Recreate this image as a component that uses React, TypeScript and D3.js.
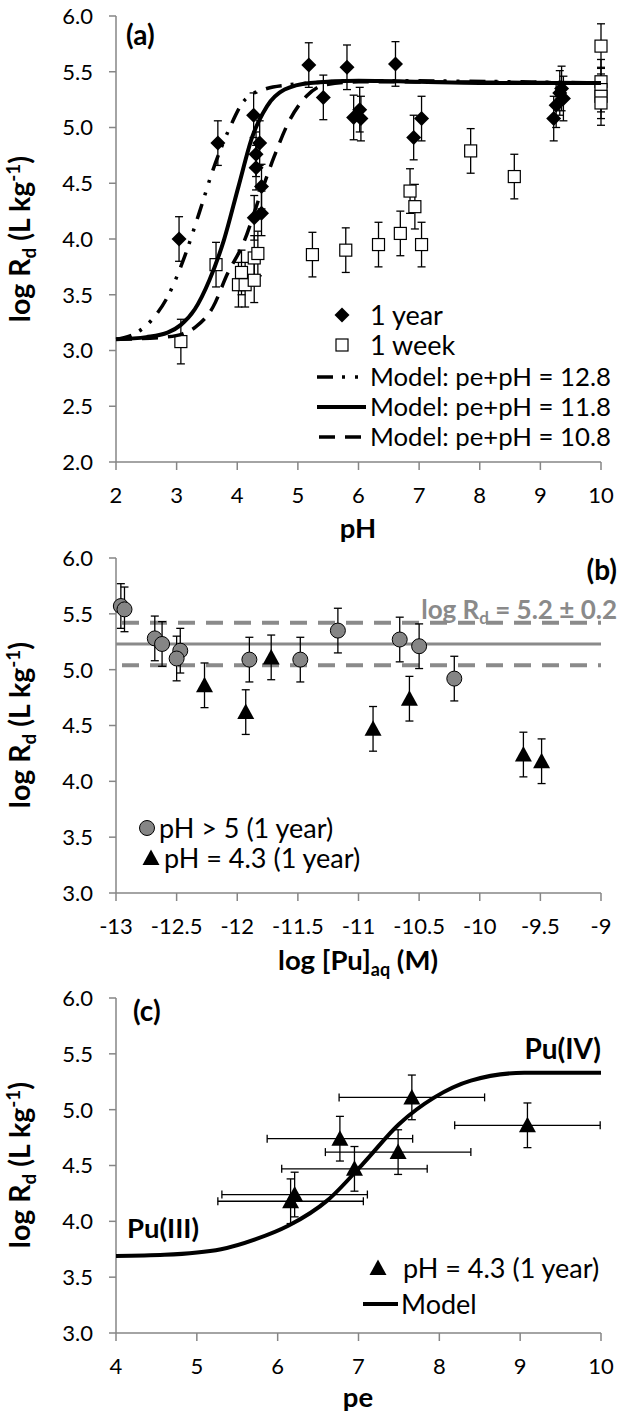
import React from "react";
import * as d3 from "d3";

// ---- panel (a): log Rd vs pH ----
const yearPH = [3.04, 3.68, 4.27, 4.37, 4.31, 4.31, 4.4, 4.28, 4.4, 5.18, 5.42, 5.81, 5.92, 6.02, 6.04, 6.61, 6.91, 7.04, 9.22, 9.26, 9.32, 9.35, 9.38];
const yearRd = [4.0, 4.86, 5.11, 4.86, 4.76, 4.64, 4.47, 4.19, 4.23, 5.56, 5.27, 5.54, 5.09, 5.16, 5.08, 5.57, 4.91, 5.08, 5.08, 5.2, 5.31, 5.35, 5.26];
const weekPH = [3.07, 3.65, 4.02, 4.13, 4.07, 4.28, 4.28, 4.34, 5.24, 5.79, 6.33, 6.69, 6.85, 6.93, 7.04, 7.85, 8.57, 10, 10, 10, 10, 10];
const weekRd = [3.08, 3.77, 3.59, 3.59, 3.7, 3.63, 3.83, 3.87, 3.86, 3.9, 3.95, 4.05, 4.43, 4.29, 3.95, 4.79, 4.56, 5.73, 5.41, 5.34, 5.28, 5.22];
const errA = 0.2;

const m128PH = [2.0, 2.37, 2.6, 2.84, 3.13, 3.37, 3.6, 3.87, 4.13, 4.49, 4.8, 5.2, 6.0, 10];
const m128Rd = [3.1, 3.17, 3.28, 3.47, 3.84, 4.23, 4.62, 4.99, 5.25, 5.35, 5.38, 5.4, 5.42, 5.4];
const m118PH = [2.0, 2.5, 2.85, 3.07, 3.3, 3.54, 3.78, 4.02, 4.25, 4.49, 4.78, 5.2, 6.0, 7.0, 8.0, 10];
const m118Rd = [3.1, 3.12, 3.16, 3.23, 3.37, 3.63, 3.99, 4.47, 4.92, 5.19, 5.34, 5.4, 5.42, 5.41, 5.4, 5.4];
const m108PH = [2.0, 2.8, 3.1, 3.31, 3.6, 3.84, 4.1, 4.37, 4.61, 4.84, 5.14, 5.43, 6.0, 10];
const m108Rd = [3.1, 3.12, 3.15, 3.21, 3.39, 3.69, 3.96, 4.38, 4.74, 5.04, 5.28, 5.38, 5.41, 5.4];

// ---- panel (b): log Rd vs log [Pu]aq ----
const hiPu = [-12.96, -12.93, -12.68, -12.62, -12.47, -12.5, -11.9, -11.48, -11.17, -10.66, -10.5, -10.21];
const hiRd = [5.57, 5.54, 5.28, 5.23, 5.17, 5.1, 5.09, 5.09, 5.35, 5.27, 5.21, 4.92];
const loPu = [-12.27, -11.93, -11.72, -10.88, -10.58, -9.64, -9.49];
const loRd = [4.86, 4.62, 5.11, 4.47, 4.74, 4.24, 4.18];
const meanRd = 5.23;
const bandRd = [5.42, 5.04];

// ---- panel (c): log Rd vs pe ----
const pePe = [7.66, 6.77, 9.09, 7.49, 6.95, 6.21, 6.16];
const peRd = [5.11, 4.74, 4.86, 4.62, 4.47, 4.24, 4.18];
const errPe = 0.9;
const mPe = [4.0, 4.6, 5.3, 5.73, 6.13, 6.62, 7.06, 7.5, 7.94, 8.39, 9.05, 10];
const mPeRd = [3.69, 3.7, 3.75, 3.84, 3.96, 4.19, 4.52, 4.87, 5.11, 5.26, 5.33, 5.33];

const ticksA_x = [2, 3, 4, 5, 6, 7, 8, 9, 10];
const ticksA_y = [2, 2.5, 3, 3.5, 4, 4.5, 5, 5.5, 6];
const ticksB_x = [-13, -12.5, -12, -11.5, -11, -10.5, -10, -9.5, -9];
const ticksBC_y = [3, 3.5, 4, 4.5, 5, 5.5, 6];
const ticksC_x = [4, 5, 6, 7, 8, 9, 10];

const FONT = "Lato, 'Open Sans', sans-serif";
const AXIS = "#868686";
const GRAY = "#8a8a8a";

const diamond = (s: number) => `M0,${-s}L${s},0L0,${s}L${-s},0Z`;
const triangle = "M0,-8.5L8.5,7L-8.5,7Z";

function Axes({ x, y, xt, yt }: any) {
  const [x0, x1] = x.range();
  const [yb, ytop] = y.range();
  return (
    <g fontFamily={FONT} fontSize={22} fill="#000">
      <line x1={x0} x2={x0} y1={ytop} y2={yb} stroke={AXIS} strokeWidth={1.5} />
      <line x1={x0} x2={x1} y1={yb} y2={yb} stroke={AXIS} strokeWidth={1.5} />
      {yt.map((t: number) => (
        <g key={"y" + t}>
          <line x1={x0 - 7} x2={x0} y1={y(t)} y2={y(t)} stroke={AXIS} strokeWidth={1.5} />
          <text x={x0 - 23} y={y(t)} dy="0.36em" textAnchor="end">{d3.format(".1f")(t)}</text>
        </g>
      ))}
      {xt.map((t: number) => (
        <g key={"x" + t}>
          <line x1={x(t)} x2={x(t)} y1={yb} y2={yb + 8} stroke={AXIS} strokeWidth={1.5} />
          <text x={x(t)} y={yb + 41} textAnchor="middle">{String(t)}</text>
        </g>
      ))}
    </g>
  );
}

function YTitle({ cy }: { cy: number }) {
  return (
    <text transform={`translate(30,${cy}) rotate(-90)`} textAnchor="middle" fontFamily={FONT} fontWeight="bold" fontSize={28.5}>
      log R<tspan fontSize={19} dy={6}>d</tspan>
      <tspan dy={-6}> (L kg</tspan>
      <tspan fontSize={19} dy={-10}>-1</tspan>
      <tspan dy={10}>)</tspan>
    </text>
  );
}

function YErr({ cx, y, v, e }: any) {
  const a = y(v - e), b = y(v + e);
  return (
    <g stroke="#000" strokeWidth={1.3}>
      <line x1={cx} x2={cx} y1={a} y2={b} />
      <line x1={cx - 4} x2={cx + 4} y1={a} y2={a} />
      <line x1={cx - 4} x2={cx + 4} y1={b} y2={b} />
    </g>
  );
}

export default function App() {
  // scales
  const xA = d3.scaleLinear().domain([2, 10]).range([116, 601]);
  const yA = d3.scaleLinear().domain([2, 6]).range([462, 16]);
  const xB = d3.scaleLinear().domain([-13, -9]).range([116, 601]);
  const yB = d3.scaleLinear().domain([3, 6]).range([893, 558]);
  const xC = d3.scaleLinear().domain([4, 10]).range([116, 601]);
  const yC = d3.scaleLinear().domain([3, 6]).range([1333, 998]);

  const lineA = (px: number[], py: number[]) =>
    d3.line<number>().x((d, i) => xA(px[i])).y((d) => yA(d)).curve(d3.curveMonotoneX)(py) || "";
  const lineC = d3.line<number>().x((d, i) => xC(mPe[i])).y((d) => yC(d)).curve(d3.curveMonotoneX)(mPeRd) || "";

  const legTxt = { fontFamily: FONT, fontSize: 27 } as any;
  const modelTxt = { fontFamily: FONT, fontSize: 25.5, textLength: 241, lengthAdjust: "spacingAndGlyphs" } as any;
  const bold = { fontFamily: FONT, fontWeight: "bold" } as any;

  return (
    <svg width={619} height={1419} style={{ position: "absolute", left: 0, top: 0, background: "#fff" }}>
      {/* ===== (a) ===== */}
      <Axes x={xA} y={yA} xt={ticksA_x} yt={ticksA_y} />
      <YTitle cy={239} />
      <text x={358} y={538} textAnchor="middle" {...bold} fontSize={27.5}>pH</text>
      <text x={126} y={45} {...bold} fontSize={28}>(a)</text>

      {yearPH.map((p, i) => <YErr key={"ye" + i} cx={xA(p)} y={yA} v={yearRd[i]} e={errA} />)}
      {weekPH.map((p, i) => <YErr key={"we" + i} cx={xA(p)} y={yA} v={weekRd[i]} e={errA} />)}
      {yearPH.map((p, i) => (
        <path key={"yd" + i} d={diamond(7.5)} transform={`translate(${xA(p)},${yA(yearRd[i])})`} fill="#000" />
      ))}
      {weekPH.map((p, i) => (
        <rect key={"ws" + i} x={xA(p) - 6} y={yA(weekRd[i]) - 6} width={12} height={12} fill="#fff" stroke="#000" strokeWidth={1.2} />
      ))}
      <path d={lineA(m128PH, m128Rd)} fill="none" stroke="#000" strokeWidth={3.5} strokeDasharray="16,9,3,10,3,10" />
      <path d={lineA(m108PH, m108Rd)} fill="none" stroke="#000" strokeWidth={3.5} strokeDasharray="16,10" />
      <path d={lineA(m118PH, m118Rd)} fill="none" stroke="#000" strokeWidth={4} />

      {/* legend (a) */}
      <path d={diamond(7.5)} transform="translate(342,315)" fill="#000" />
      <text x={370} y={315} dy="0.36em" {...legTxt}>1 year</text>
      <rect x={336} y={339} width={12} height={12} fill="#fff" stroke="#000" strokeWidth={1.2} />
      <text x={370} y={345} dy="0.36em" {...legTxt}>1 week</text>
      <line x1={317} x2={366} y1={377} y2={377} stroke="#000" strokeWidth={3.5} strokeDasharray="16,9,3,10,3,10" />
      <text x={370} y={377} dy="0.36em" {...modelTxt}>Model: pe+pH = 12.8</text>
      <line x1={317} x2={366} y1={407} y2={407} stroke="#000" strokeWidth={4} />
      <text x={370} y={407} dy="0.36em" {...modelTxt}>Model: pe+pH = 11.8</text>
      <line x1={317} x2={366} y1={437} y2={437} stroke="#000" strokeWidth={3.5} strokeDasharray="16,10" strokeDashoffset={-2} />
      <text x={370} y={437} dy="0.36em" {...modelTxt}>Model: pe+pH = 10.8</text>

      {/* ===== (b) ===== */}
      <Axes x={xB} y={yB} xt={ticksB_x} yt={ticksBC_y} />
      <YTitle cy={725} />
      <text x={358} y={970} textAnchor="middle" {...bold} fontSize={27.5}>
        log [Pu]<tspan fontSize={18} dy={6}>aq</tspan><tspan dy={-6}> (M)</tspan>
      </text>
      <text x={617} y={580} textAnchor="end" {...bold} fontSize={28}>(b)</text>

      <line x1={xB(-13)} x2={xB(-9)} y1={yB(meanRd)} y2={yB(meanRd)} stroke={GRAY} strokeWidth={3} />
      {bandRd.map((b) => (
        <line key={"bd" + b} x1={xB(-13)} x2={xB(-9)} y1={yB(b)} y2={yB(b)} stroke={GRAY} strokeWidth={4} strokeDasharray="17,11" strokeDashoffset={-6} />
      ))}
      <text x={617} y={619} textAnchor="end" {...bold} fontSize={26} fill={GRAY}>
        log R<tspan fontSize={17} dy={5}>d</tspan><tspan dy={-5}> = 5.2 ± 0.2</tspan>
      </text>

      {hiPu.map((p, i) => <YErr key={"he" + i} cx={xB(p)} y={yB} v={hiRd[i]} e={0.2} />)}
      {loPu.map((p, i) => <YErr key={"le" + i} cx={xB(p)} y={yB} v={loRd[i]} e={0.2} />)}
      {hiPu.map((p, i) => (
        <circle key={"hc" + i} cx={xB(p)} cy={yB(hiRd[i])} r={7.5} fill="#858585" stroke="#000" strokeWidth={1} />
      ))}
      {loPu.map((p, i) => (
        <path key={"lt" + i} d={triangle} transform={`translate(${xB(p)},${yB(loRd[i])})`} fill="#000" />
      ))}

      {/* legend (b) */}
      <circle cx={147} cy={828} r={7.5} fill="#858585" stroke="#000" strokeWidth={1} />
      <text x={159} y={828} dy="0.36em" {...legTxt}>pH &gt; 5 (1 year)</text>
      <path d={triangle} transform="translate(151,858)" fill="#000" />
      <text x={164} y={858} dy="0.36em" {...legTxt}>pH = 4.3 (1 year)</text>

      {/* ===== (c) ===== */}
      <Axes x={xC} y={yC} xt={ticksC_x} yt={ticksBC_y} />
      <YTitle cy={1165} />
      <text x={358} y={1407} textAnchor="middle" {...bold} fontSize={27.5}>pe</text>
      <text x={133} y={1021} {...bold} fontSize={28}>(c)</text>

      {pePe.map((p, i) => {
        const cy = yC(peRd[i]);
        const a = xC(p - errPe), b = xC(p + errPe);
        return (
          <g key={"xe" + i} stroke="#000" strokeWidth={1.3}>
            <line x1={a} x2={b} y1={cy} y2={cy} />
            <line x1={a} x2={a} y1={cy - 4} y2={cy + 4} />
            <line x1={b} x2={b} y1={cy - 4} y2={cy + 4} />
          </g>
        );
      })}
      {pePe.map((p, i) => <YErr key={"ce" + i} cx={xC(p)} y={yC} v={peRd[i]} e={0.2} />)}
      <path d={lineC} fill="none" stroke="#000" strokeWidth={4} />
      {pePe.map((p, i) => (
        <path key={"ct" + i} d={triangle} transform={`translate(${xC(p)},${yC(peRd[i])})`} fill="#000" />
      ))}
      <text x={601} y={1059} textAnchor="end" {...bold} fontSize={28}>Pu(IV)</text>
      <text x={127} y={1238} {...bold} fontSize={27.5}>Pu(III)</text>

      {/* legend (c) */}
      <path d={triangle} transform="translate(378,1268)" fill="#000" />
      <text x={403} y={1268} dy="0.36em" {...legTxt}>pH = 4.3 (1 year)</text>
      <line x1={363} x2={398} y1={1304} y2={1304} stroke="#000" strokeWidth={4} />
      <text x={401} y={1304} dy="0.36em" {...legTxt}>Model</text>
    </svg>
  );
}
